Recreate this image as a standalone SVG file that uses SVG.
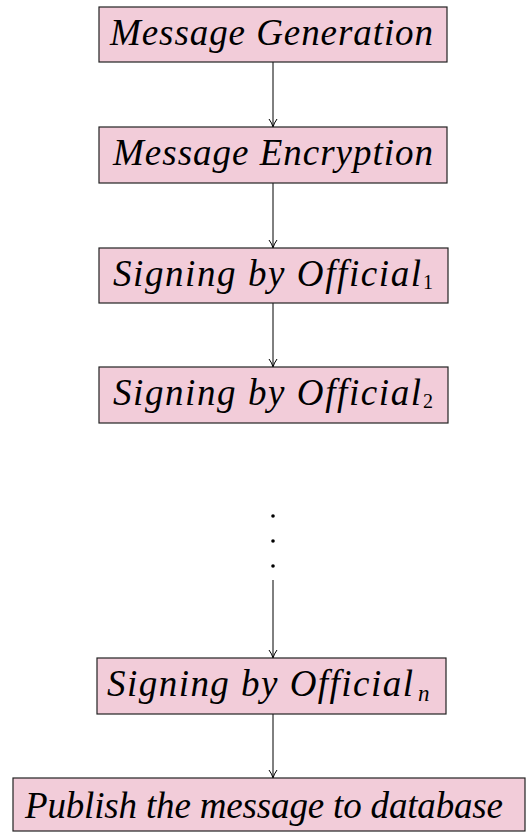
<svg xmlns="http://www.w3.org/2000/svg" width="528" height="832" viewBox="0 0 528 832">
<style>
.box{fill:#F2CCD9;stroke:#222;stroke-width:1.2}
.t{font-family:"Liberation Serif","Times New Roman",serif;font-style:italic;font-size:37px;fill:#000}
.s{font-family:"Liberation Serif","Times New Roman",serif;font-size:20px;fill:#000}
.si{font-family:"Liberation Serif","Times New Roman",serif;font-style:italic;font-size:23px;fill:#000}
.c{stroke:#000;stroke-width:1;fill:none}
</style>
<defs>
<marker id="arr" viewBox="0 0 10 10" refX="9" refY="5" markerWidth="10" markerHeight="10" markerUnits="userSpaceOnUse" orient="auto">
<path d="M1,1 Q5,4 9,5 Q5,6 1,9" fill="none" stroke="#000" stroke-width="1"/>
</marker>
</defs>
<rect width="528" height="832" fill="#fff"/>
<g id="connectors">
<line class="c" x1="273" y1="62" x2="273" y2="127" marker-end="url(#arr)"/>
<line class="c" x1="273" y1="183" x2="273" y2="248" marker-end="url(#arr)"/>
<line class="c" x1="273" y1="303" x2="273" y2="367" marker-end="url(#arr)"/>
<line class="c" x1="273" y1="580" x2="273" y2="658" marker-end="url(#arr)"/>
<line class="c" x1="273" y1="714" x2="273" y2="778" marker-end="url(#arr)"/>
</g>
<g id="n1">
<rect class="box" x="99" y="7" width="348" height="55"/>
<text class="t" x="110" y="45" textLength="323" lengthAdjust="spacing">Message Generation</text>
</g>
<g id="n2">
<rect class="box" x="99" y="127" width="348" height="56"/>
<text class="t" x="113" y="165" textLength="320" lengthAdjust="spacing">Message Encryption</text>
</g>
<g id="n3">
<rect class="box" x="99" y="248" width="349" height="55"/>
<text class="t" x="113" y="286" textLength="308" lengthAdjust="spacing">Signing by Official</text>
<text class="s" x="423" y="289">1</text>
</g>
<g id="n4">
<rect class="box" x="99" y="367" width="349" height="56"/>
<text class="t" x="113" y="405" textLength="308" lengthAdjust="spacing">Signing by Official</text>
<text class="s" x="423" y="408">2</text>
</g>
<g id="dots">
<circle cx="273" cy="516" r="1.8" fill="#000"/>
<circle cx="273" cy="541" r="1.8" fill="#000"/>
<circle cx="273" cy="566" r="1.8" fill="#000"/>
</g>
<g id="nn">
<rect class="box" x="97" y="658" width="349" height="56"/>
<text class="t" x="107" y="696" textLength="306" lengthAdjust="spacing">Signing by Official</text>
<text class="si" x="418" y="701">n</text>
</g>
<g id="n6">
<rect class="box" x="13" y="778" width="512" height="53"/>
<text class="t" x="25" y="818" textLength="478" lengthAdjust="spacing">Publish the message to database</text>
</g>
</svg>
